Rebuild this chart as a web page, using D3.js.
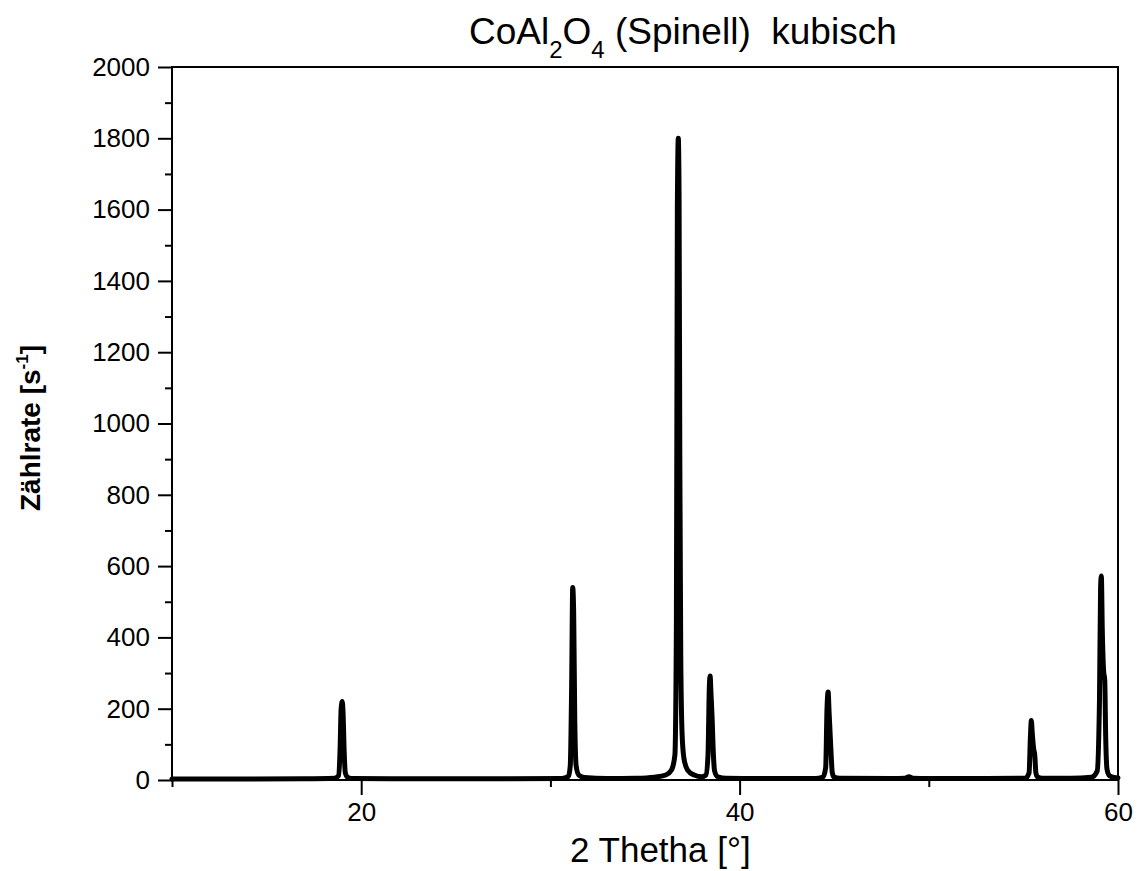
<!DOCTYPE html>
<html>
<head>
<meta charset="utf-8">
<script src="https://cdn.jsdelivr.net/npm/d3@7"></script>
<style>
  body { margin: 0; background: #fff; }
  svg { display: block; font-family: "Liberation Sans", Arial, sans-serif; }
  .axis path, .axis line { stroke: #000; stroke-width: 2px; }
  .axis text { font-size: 26px; fill: #000; }
</style>
</head>
<body>
<svg id="chart" width="1138" height="871"></svg>
<script>
// diffractogram (2 theta in degrees, counts per second)
var twoTheta = [10, 14, 17, 18.6, 18.8, 18.88, 18.94, 19.0, 19.04, 19.1, 19.16, 19.3, 19.6,
  23, 27, 30.6, 30.95, 31.05, 31.12, 31.18, 31.23, 31.29, 31.36, 31.5, 31.8, 33,
  34.5, 35.5, 36.1, 36.4, 36.58, 36.66, 36.71, 36.76, 36.8, 36.84, 36.89, 36.96, 37.06, 37.25, 37.6, 38.0,
  38.22, 38.33, 38.4, 38.44, 38.49, 38.55, 38.6, 38.68, 38.85, 39.3,
  41, 44, 44.4, 44.55, 44.62, 44.68, 44.73, 44.78, 44.83, 44.9, 45.0, 45.3,
  48, 48.75, 48.95, 49.15, 50,
  53, 55.1, 55.3, 55.37, 55.42, 55.47, 55.54, 55.6, 55.66, 55.75, 56.0,
  57.5, 58.6, 58.9, 59.02, 59.08, 59.12, 59.17, 59.24, 59.3, 59.35, 59.42, 59.55, 59.8, 60];
var counts = [3, 3, 3.5, 5, 12, 80, 200, 220, 190, 80, 20, 7, 4,
  3.5, 3.5, 4, 10, 40, 250, 540, 470, 160, 40, 14, 7, 4,
  5, 8, 14, 28, 70, 450, 1600, 1800, 1650, 900, 350, 130, 60, 28, 14, 9,
  14, 70, 260, 292, 240, 170, 90, 25, 9, 5,
  4, 4, 8, 35, 200, 247, 190, 135, 80, 20, 8, 5,
  4, 5, 9, 5, 4,
  4, 5, 20, 120, 167, 130, 88, 70, 20, 8, 5,
  5, 8, 25, 220, 540, 572, 420, 305, 280, 120, 30, 12, 7, 6];

var xMajorTicks = [20, 40, 60];
var xMinorTicks = [10, 30, 50];
var yMajorTicks = [0, 200, 400, 600, 800, 1000, 1200, 1400, 1600, 1800, 2000];
var yMinorTicks = [100, 300, 500, 700, 900, 1100, 1300, 1500, 1700, 1900];

var data = twoTheta.map(function(t, i) { return { t: t, c: counts[i] }; });

var plotLeft = 172, plotRight = 1118, plotTop = 67, plotBottom = 780;

var svg = d3.select("#chart");

var xScale = d3.scaleLinear().domain([10, 60]).range([plotLeft, plotRight]);
var yScale = d3.scaleLinear().domain([0, 2000]).range([plotBottom, plotTop]);

// frame
svg.append("rect")
  .attr("x", plotLeft).attr("y", plotTop)
  .attr("width", plotRight - plotLeft).attr("height", plotBottom - plotTop)
  .attr("fill", "none").attr("stroke", "#000").attr("stroke-width", 2);

// axes: major ticks with labels, minor ticks without
svg.append("g").attr("class", "axis")
  .attr("transform", "translate(" + plotLeft + ",0)")
  .call(d3.axisLeft(yScale).tickValues(yMajorTicks).tickSize(14).tickPadding(8).tickFormat(d3.format("d")));
svg.append("g").attr("class", "axis")
  .attr("transform", "translate(" + plotLeft + ",0)")
  .call(d3.axisLeft(yScale).tickValues(yMinorTicks).tickSize(7).tickFormat(""));

svg.append("g").attr("class", "axis")
  .attr("transform", "translate(0," + plotBottom + ")")
  .call(d3.axisBottom(xScale).tickValues(xMajorTicks).tickSize(15).tickPadding(8).tickFormat(d3.format("d")));
svg.append("g").attr("class", "axis")
  .attr("transform", "translate(0," + plotBottom + ")")
  .call(d3.axisBottom(xScale).tickValues(xMinorTicks).tickSize(7).tickFormat(""));

svg.selectAll(".axis path.domain").remove();

// the pattern
var line = d3.line()
  .x(function(d) { return xScale(d.t); })
  .y(function(d) { return yScale(d.c); })
  .curve(d3.curveMonotoneX);

svg.append("path")
  .datum(data)
  .attr("d", line)
  .attr("fill", "none")
  .attr("stroke", "#000")
  .attr("stroke-width", 5)
  .attr("stroke-linejoin", "round")
  .attr("stroke-linecap", "round");

// title with subscripts
var title = svg.append("text")
  .attr("x", 469).attr("y", 44)
  .attr("font-size", 37)
  .style("white-space", "pre");
title.append("tspan").text("CoAl");
title.append("tspan").attr("font-size", 24).attr("dy", 14).text("2");
title.append("tspan").attr("dy", -14).text("O");
title.append("tspan").attr("font-size", 24).attr("dy", 14).text("4");
title.append("tspan").attr("dy", -14).text(" (Spinell)  kubisch");

// axis labels
svg.append("text")
  .attr("x", 570).attr("y", 862)
  .attr("font-size", 35)
  .text("2 Thetha [°]");

var ylab = svg.append("text")
  .attr("transform", "translate(40,428) rotate(-90)")
  .attr("text-anchor", "middle")
  .attr("font-size", 28)
  .attr("font-weight", "bold");
ylab.append("tspan").text("Zählrate [s");
ylab.append("tspan").attr("font-size", 17).attr("dy", -12).text("-1");
ylab.append("tspan").attr("dy", 12).text("]");
</script>
</body>
</html>
